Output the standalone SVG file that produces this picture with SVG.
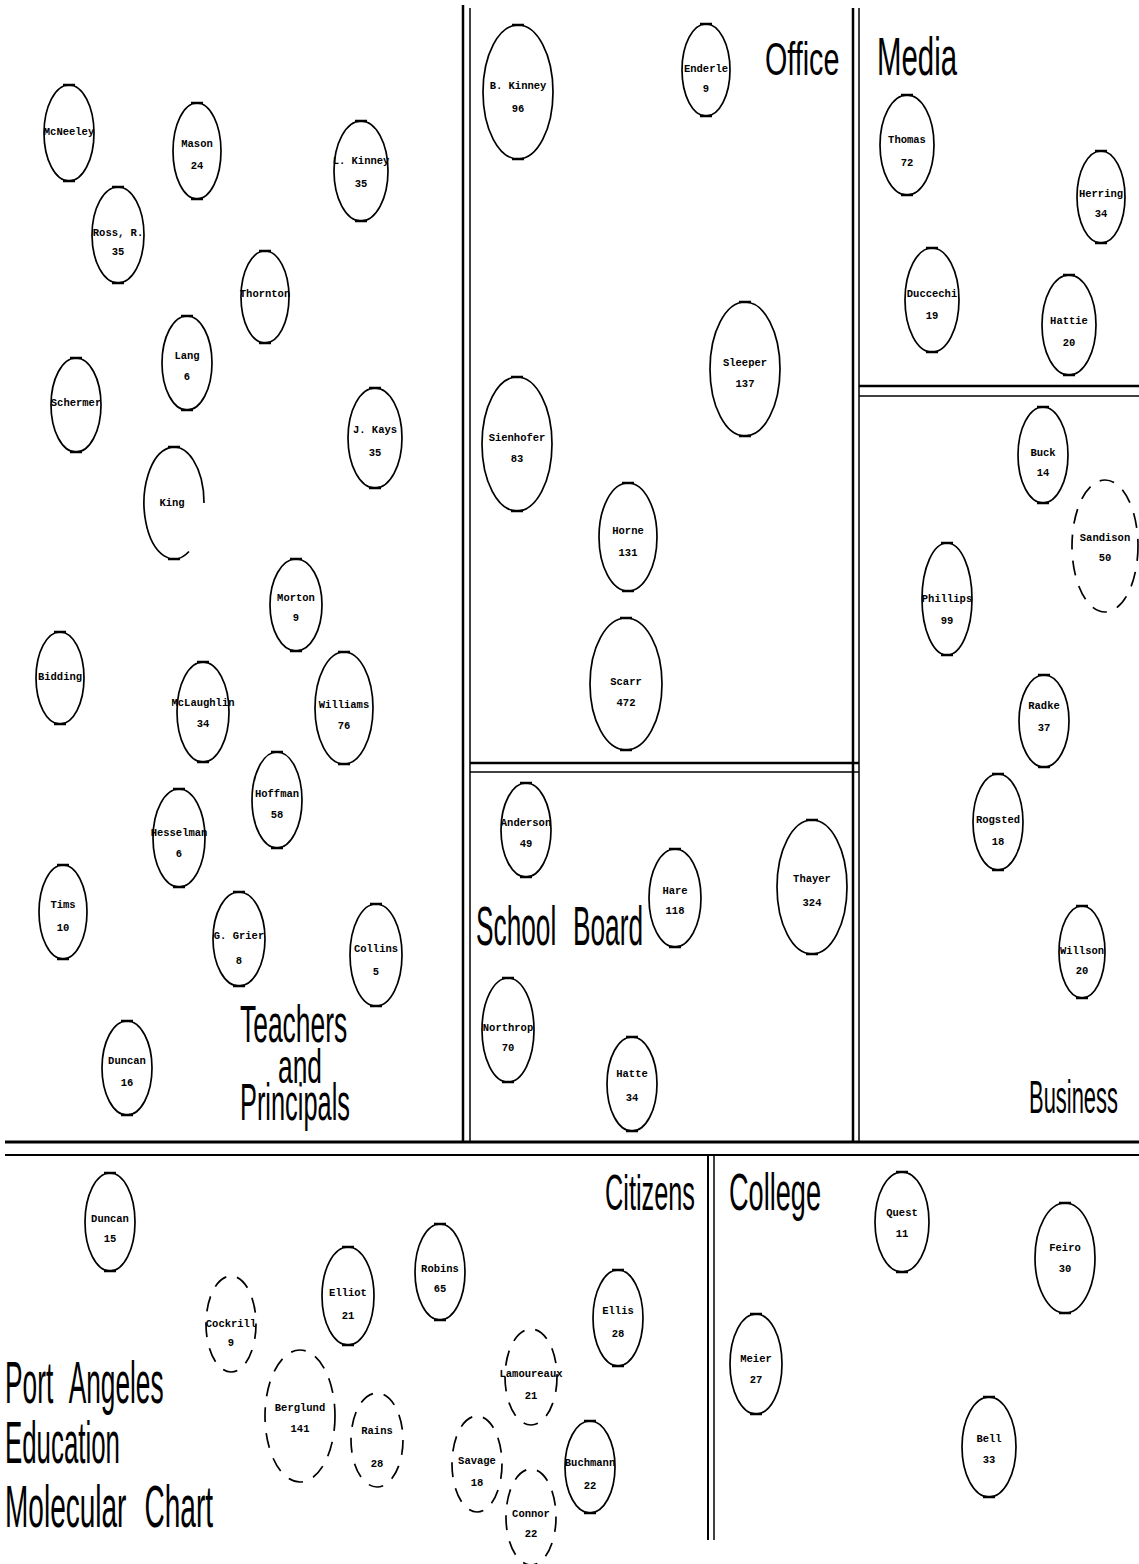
<svg xmlns="http://www.w3.org/2000/svg" width="1139" height="1564" viewBox="0 0 1139 1564">
<style>
.mol{fill:none;stroke:#000;stroke-width:1.7}
.dash{stroke-dasharray:15 11}
.tk{fill:none;stroke:#000;stroke-width:2.4}
.nm{font-family:"Liberation Mono","DejaVu Sans Mono",monospace;font-size:10.5px;font-weight:bold;text-anchor:middle;fill:#000}
.big{font-family:"Liberation Sans","DejaVu Sans",sans-serif;font-weight:normal;fill:#000}
.fr{stroke:#000;fill:none}
</style>
<rect width="1139" height="1564" fill="#fff"/>
<g id="frame">
<line class="fr" x1="463" y1="5" x2="463" y2="1142" stroke-width="2.5"/>
<line class="fr" x1="470" y1="8" x2="470" y2="1142" stroke-width="1.5"/>
<line class="fr" x1="853" y1="8" x2="853" y2="1142" stroke-width="2.5"/>
<line class="fr" x1="859" y1="8" x2="859" y2="1142" stroke-width="1.5"/>
<line class="fr" x1="470" y1="763" x2="859" y2="763" stroke-width="2.5"/>
<line class="fr" x1="470" y1="772" x2="859" y2="772" stroke-width="1.5"/>
<line class="fr" x1="859" y1="386" x2="1139" y2="386" stroke-width="2.5"/>
<line class="fr" x1="859" y1="396" x2="1139" y2="396" stroke-width="1.5"/>
<line class="fr" x1="5" y1="1142" x2="1139" y2="1142" stroke-width="3"/>
<line class="fr" x1="5" y1="1155" x2="1139" y2="1155" stroke-width="2"/>
<line class="fr" x1="708" y1="1155" x2="708" y2="1540" stroke-width="2"/>
<line class="fr" x1="714" y1="1155" x2="714" y2="1540" stroke-width="1.5"/>
</g>
<g id="labels">
<text class="big" transform="translate(240,1042) scale(0.508,1)" font-size="52">Teachers</text>
<text class="big" transform="translate(278,1083) scale(0.549,1)" font-size="48">and</text>
<text class="big" transform="translate(240,1120) scale(0.488,1)" font-size="52">Principals</text>
<text class="big" transform="translate(765,75) scale(0.624,1)" font-size="46">Office</text>
<text class="big" transform="translate(877,75) scale(0.544,1)" font-size="54">Media</text>
<text class="big" transform="translate(476,945) scale(0.469,1)" font-size="56" word-spacing="20">School Board</text>
<text class="big" transform="translate(1029,1113) scale(0.477,1)" font-size="46">Business</text>
<text class="big" transform="translate(605,1210) scale(0.506,1)" font-size="50">Citizens</text>
<text class="big" transform="translate(729,1210) scale(0.522,1)" font-size="52">College</text>
<text class="big" transform="translate(5,1403) scale(0.438,1)" font-size="60" word-spacing="22">Port Angeles</text>
<text class="big" transform="translate(5,1463) scale(0.431,1)" font-size="60">Education</text>
<text class="big" transform="translate(5,1527) scale(0.467,1)" font-size="60" word-spacing="22">Molecular Chart</text>
</g>
<g id="connectors"></g>
<!-- Teachers and Principals -->
<g id="n-mcneeley"><ellipse class="mol" cx="69" cy="133" rx="25" ry="48"/><path class="tk" d="M63,85h12M63,181h12"/><text class="nm" x="69" y="135">McNeeley</text></g>
<g id="n-mason"><ellipse class="mol" cx="197" cy="151" rx="24" ry="48"/><path class="tk" d="M191,103h12M191,199h12"/><text class="nm" x="197" y="147">Mason</text><text class="nm" x="197" y="169">24</text></g>
<g id="n-lkinney"><ellipse class="mol" cx="361" cy="171" rx="27" ry="50"/><path class="tk" d="M355,121h12M355,221h12"/><text class="nm" x="361" y="164">L. Kinney</text><text class="nm" x="361" y="187">35</text></g>
<g id="n-ross"><ellipse class="mol" cx="118" cy="235" rx="26" ry="48"/><path class="tk" d="M112,187h12M112,283h12"/><text class="nm" x="118" y="236">Ross, R.</text><text class="nm" x="118" y="255">35</text></g>
<g id="n-thornton"><ellipse class="mol" cx="265" cy="297" rx="24" ry="46"/><path class="tk" d="M259,251h12M259,343h12"/><text class="nm" x="265" y="297">Thornton</text></g>
<g id="n-lang"><ellipse class="mol" cx="187" cy="363" rx="25" ry="47"/><path class="tk" d="M181,316h12M181,410h12"/><text class="nm" x="187" y="359">Lang</text><text class="nm" x="187" y="380">6</text></g>
<g id="n-schermer"><ellipse class="mol" cx="76" cy="405" rx="25" ry="47"/><path class="tk" d="M70,358h12M70,452h12"/><text class="nm" x="76" y="406">Schermer</text></g>
<g id="n-jkays"><ellipse class="mol" cx="375" cy="438" rx="27" ry="50"/><path class="tk" d="M369,388h12M369,488h12"/><text class="nm" x="375" y="433">J. Kays</text><text class="nm" x="375" y="456">35</text></g>
<g id="n-king"><path class="mol" d="M189,551.5A30,56 0 1 1 204,503"/><path class="tk" d="M168,447h12M168,559h12"/><text class="nm" x="172" y="506">King</text></g>
<g id="n-morton"><ellipse class="mol" cx="296" cy="605" rx="26" ry="46"/><path class="tk" d="M290,559h12M290,651h12"/><text class="nm" x="296" y="601">Morton</text><text class="nm" x="296" y="621">9</text></g>
<g id="n-bidding"><ellipse class="mol" cx="60" cy="678" rx="24" ry="46"/><path class="tk" d="M54,632h12M54,724h12"/><text class="nm" x="60" y="680">Bidding</text></g>
<g id="n-mclaughlin"><ellipse class="mol" cx="203" cy="712" rx="26" ry="50"/><path class="tk" d="M197,662h12M197,762h12"/><text class="nm" x="203" y="706">McLaughlin</text><text class="nm" x="203" y="727">34</text></g>
<g id="n-williams"><ellipse class="mol" cx="344" cy="708" rx="29" ry="56"/><path class="tk" d="M338,652h12M338,764h12"/><text class="nm" x="344" y="708">Williams</text><text class="nm" x="344" y="729">76</text></g>
<g id="n-hoffman"><ellipse class="mol" cx="277" cy="800" rx="25" ry="48"/><path class="tk" d="M271,752h12M271,848h12"/><text class="nm" x="277" y="797">Hoffman</text><text class="nm" x="277" y="818">58</text></g>
<g id="n-hesselman"><ellipse class="mol" cx="179" cy="838" rx="26" ry="49"/><path class="tk" d="M173,789h12M173,887h12"/><text class="nm" x="179" y="836">Hesselman</text><text class="nm" x="179" y="857">6</text></g>
<g id="n-tims"><ellipse class="mol" cx="63" cy="912" rx="24" ry="47"/><path class="tk" d="M57,865h12M57,959h12"/><text class="nm" x="63" y="908">Tims</text><text class="nm" x="63" y="931">10</text></g>
<g id="n-grier"><ellipse class="mol" cx="239" cy="939" rx="26" ry="47"/><path class="tk" d="M233,892h12M233,986h12"/><text class="nm" x="239" y="939">G. Grier</text><text class="nm" x="239" y="964">8</text></g>
<g id="n-collins"><ellipse class="mol" cx="376" cy="955" rx="26" ry="51"/><path class="tk" d="M370,904h12M370,1006h12"/><text class="nm" x="376" y="952">Collins</text><text class="nm" x="376" y="975">5</text></g>
<g id="n-duncan16"><ellipse class="mol" cx="127" cy="1068" rx="25" ry="47"/><path class="tk" d="M121,1021h12M121,1115h12"/><text class="nm" x="127" y="1064">Duncan</text><text class="nm" x="127" y="1086">16</text></g>
<!-- Office -->
<g id="n-bkinney"><ellipse class="mol" cx="518" cy="92" rx="35" ry="67"/><path class="tk" d="M512,25h12M512,159h12"/><text class="nm" x="518" y="89">B. Kinney</text><text class="nm" x="518" y="112">96</text></g>
<g id="n-enderle"><ellipse class="mol" cx="706" cy="70" rx="24" ry="46"/><path class="tk" d="M700,24h12M700,116h12"/><text class="nm" x="706" y="72">Enderle</text><text class="nm" x="706" y="92">9</text></g>
<g id="n-sleeper"><ellipse class="mol" cx="745" cy="369" rx="35" ry="67"/><path class="tk" d="M739,302h12M739,436h12"/><text class="nm" x="745" y="366">Sleeper</text><text class="nm" x="745" y="387">137</text></g>
<g id="n-sienhofer"><ellipse class="mol" cx="517" cy="444" rx="35" ry="67"/><path class="tk" d="M511,377h12M511,511h12"/><text class="nm" x="517" y="441">Sienhofer</text><text class="nm" x="517" y="462">83</text></g>
<g id="n-horne"><ellipse class="mol" cx="628" cy="537" rx="29" ry="54"/><path class="tk" d="M622,483h12M622,591h12"/><text class="nm" x="628" y="534">Horne</text><text class="nm" x="628" y="556">131</text></g>
<g id="n-scarr"><ellipse class="mol" cx="626" cy="684" rx="36" ry="66"/><path class="tk" d="M620,618h12M620,750h12"/><text class="nm" x="626" y="685">Scarr</text><text class="nm" x="626" y="706">472</text></g>
<!-- School Board -->
<g id="n-anderson"><ellipse class="mol" cx="526" cy="830" rx="25" ry="47"/><path class="tk" d="M520,783h12M520,877h12"/><text class="nm" x="526" y="826">Anderson</text><text class="nm" x="526" y="847">49</text></g>
<g id="n-hare"><ellipse class="mol" cx="675" cy="898" rx="26" ry="49"/><path class="tk" d="M669,849h12M669,947h12"/><text class="nm" x="675" y="894">Hare</text><text class="nm" x="675" y="914">118</text></g>
<g id="n-thayer"><ellipse class="mol" cx="812" cy="887" rx="35" ry="67"/><path class="tk" d="M806,820h12M806,954h12"/><text class="nm" x="812" y="882">Thayer</text><text class="nm" x="812" y="906">324</text></g>
<g id="n-northrop"><ellipse class="mol" cx="508" cy="1030" rx="26" ry="52"/><path class="tk" d="M502,978h12M502,1082h12"/><text class="nm" x="508" y="1031">Northrop</text><text class="nm" x="508" y="1051">70</text></g>
<g id="n-hatte"><ellipse class="mol" cx="632" cy="1084" rx="25" ry="47"/><path class="tk" d="M626,1037h12M626,1131h12"/><text class="nm" x="632" y="1077">Hatte</text><text class="nm" x="632" y="1101">34</text></g>
<!-- Media -->
<g id="n-thomas"><ellipse class="mol" cx="907" cy="145" rx="27" ry="50"/><path class="tk" d="M901,95h12M901,195h12"/><text class="nm" x="907" y="143">Thomas</text><text class="nm" x="907" y="166">72</text></g>
<g id="n-herring"><ellipse class="mol" cx="1101" cy="197" rx="24" ry="46"/><path class="tk" d="M1095,151h12M1095,243h12"/><text class="nm" x="1101" y="197">Herring</text><text class="nm" x="1101" y="217">34</text></g>
<g id="n-duccechi"><ellipse class="mol" cx="932" cy="300" rx="27" ry="52"/><path class="tk" d="M926,248h12M926,352h12"/><text class="nm" x="932" y="297">Duccechi</text><text class="nm" x="932" y="319">19</text></g>
<g id="n-hattie"><ellipse class="mol" cx="1069" cy="325" rx="27" ry="50"/><path class="tk" d="M1063,275h12M1063,375h12"/><text class="nm" x="1069" y="324">Hattie</text><text class="nm" x="1069" y="346">20</text></g>
<!-- Business -->
<g id="n-buck"><ellipse class="mol" cx="1043" cy="455" rx="25" ry="48"/><path class="tk" d="M1037,407h12M1037,503h12"/><text class="nm" x="1043" y="456">Buck</text><text class="nm" x="1043" y="476">14</text></g>
<g id="n-sandison"><ellipse class="mol dash" cx="1105" cy="546" rx="33" ry="66"/><text class="nm" x="1105" y="541">Sandison</text><text class="nm" x="1105" y="561">50</text></g>
<g id="n-phillips"><ellipse class="mol" cx="947" cy="599" rx="25" ry="56"/><path class="tk" d="M941,543h12M941,655h12"/><text class="nm" x="947" y="602">Phillips</text><text class="nm" x="947" y="624">99</text></g>
<g id="n-radke"><ellipse class="mol" cx="1044" cy="721" rx="25" ry="46"/><path class="tk" d="M1038,675h12M1038,767h12"/><text class="nm" x="1044" y="709">Radke</text><text class="nm" x="1044" y="731">37</text></g>
<g id="n-rogsted"><ellipse class="mol" cx="998" cy="822" rx="25" ry="48"/><path class="tk" d="M992,774h12M992,870h12"/><text class="nm" x="998" y="823">Rogsted</text><text class="nm" x="998" y="845">18</text></g>
<g id="n-willson"><ellipse class="mol" cx="1082" cy="952" rx="23" ry="46"/><path class="tk" d="M1076,906h12M1076,998h12"/><text class="nm" x="1082" y="954">Willson</text><text class="nm" x="1082" y="974">20</text></g>
<!-- Citizens -->
<g id="n-duncan15"><ellipse class="mol" cx="110" cy="1222" rx="25" ry="49"/><path class="tk" d="M104,1173h12M104,1271h12"/><text class="nm" x="110" y="1222">Duncan</text><text class="nm" x="110" y="1242">15</text></g>
<g id="n-cockrill"><ellipse class="mol dash" cx="231" cy="1324" rx="25" ry="48"/><text class="nm" x="231" y="1327">Cockrill</text><text class="nm" x="231" y="1346">9</text></g>
<g id="n-elliot"><ellipse class="mol" cx="348" cy="1296" rx="26" ry="49"/><path class="tk" d="M342,1247h12M342,1345h12"/><text class="nm" x="348" y="1296">Elliot</text><text class="nm" x="348" y="1319">21</text></g>
<g id="n-robins"><ellipse class="mol" cx="440" cy="1272" rx="25" ry="48"/><path class="tk" d="M434,1224h12M434,1320h12"/><text class="nm" x="440" y="1272">Robins</text><text class="nm" x="440" y="1292">65</text></g>
<g id="n-ellis"><ellipse class="mol" cx="618" cy="1318" rx="25" ry="48"/><path class="tk" d="M612,1270h12M612,1366h12"/><text class="nm" x="618" y="1314">Ellis</text><text class="nm" x="618" y="1337">28</text></g>
<g id="n-berglund"><ellipse class="mol dash" cx="300" cy="1416" rx="35" ry="66"/><text class="nm" x="300" y="1411">Berglund</text><text class="nm" x="300" y="1432">141</text></g>
<g id="n-rains"><ellipse class="mol dash" cx="377" cy="1440" rx="26" ry="47"/><text class="nm" x="377" y="1434">Rains</text><text class="nm" x="377" y="1467">28</text></g>
<g id="n-lamoureaux"><ellipse class="mol dash" cx="531" cy="1377" rx="26" ry="48"/><text class="nm" x="531" y="1377">Lamoureaux</text><text class="nm" x="531" y="1399">21</text></g>
<g id="n-savage"><ellipse class="mol dash" cx="477" cy="1464" rx="25" ry="48"/><text class="nm" x="477" y="1464">Savage</text><text class="nm" x="477" y="1486">18</text></g>
<g id="n-buchmann"><ellipse class="mol" cx="590" cy="1467" rx="25" ry="46"/><path class="tk" d="M584,1421h12M584,1513h12"/><text class="nm" x="590" y="1466">Buchmann</text><text class="nm" x="590" y="1489">22</text></g>
<g id="n-connor"><ellipse class="mol dash" cx="531" cy="1517" rx="25" ry="48"/><text class="nm" x="531" y="1517">Connor</text><text class="nm" x="531" y="1537">22</text></g>
<!-- College -->
<g id="n-quest"><ellipse class="mol" cx="902" cy="1222" rx="27" ry="50"/><path class="tk" d="M896,1172h12M896,1272h12"/><text class="nm" x="902" y="1216">Quest</text><text class="nm" x="902" y="1237">11</text></g>
<g id="n-feiro"><ellipse class="mol" cx="1065" cy="1258" rx="30" ry="55"/><path class="tk" d="M1059,1203h12M1059,1313h12"/><text class="nm" x="1065" y="1251">Feiro</text><text class="nm" x="1065" y="1272">30</text></g>
<g id="n-meier"><ellipse class="mol" cx="756" cy="1364" rx="26" ry="50"/><path class="tk" d="M750,1314h12M750,1414h12"/><text class="nm" x="756" y="1362">Meier</text><text class="nm" x="756" y="1383">27</text></g>
<g id="n-bell"><ellipse class="mol" cx="989" cy="1447" rx="27" ry="50"/><path class="tk" d="M983,1397h12M983,1497h12"/><text class="nm" x="989" y="1442">Bell</text><text class="nm" x="989" y="1463">33</text></g>
</svg>
